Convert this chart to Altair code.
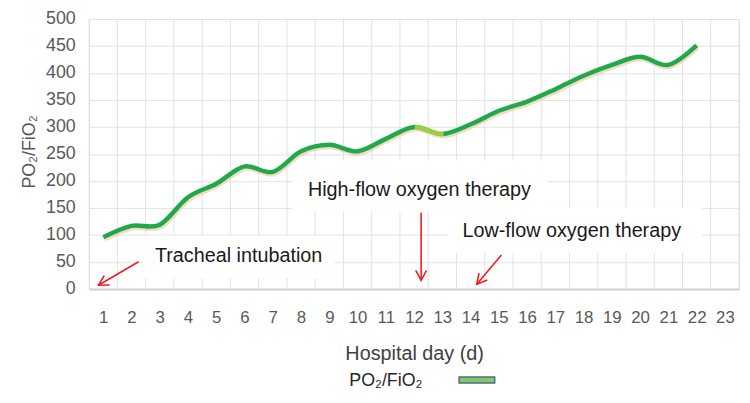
import altair as alt
import pandas as pd

FONT = "Liberation Sans"

# ---- data ----
days = list(range(1, 23))
pf_ratio = [96, 117, 119, 170, 195, 227, 217, 255, 267, 255, 278,
            300, 287, 305, 330, 347, 370, 395, 415, 430, 415, 451]
x_ticks = list(range(1, 24))
y_ticks = list(range(0, 501, 50))

# light-green stretch of the curve (day 12 -> 13), drawn with its neighbours
seg_days = [11, 12, 13, 14]

ann_text = ["Tracheal intubation", "High-flow oxygen therapy", "Low-flow oxygen therapy"]
ann_x = [5.79, 12.19, 17.58]
ann_y = [61, 184, 108]
box_x = [2.4, 7.7, 13.2]
box_x2 = [9.2, 16.7, 22.2]
box_y = [20, 144, 67]
box_y2 = [99, 238, 150]

arrow_x = [2.25, 12.25, 15.09]
arrow_y = [50.5, 141, 63]
arrow_x2 = [0.83, 12.25, 14.22]
arrow_y2 = [7, 16, 9]
arrow_angle = [150, 90, 130]

legend_label = "PO₂/FiO₂"

# ---- tables ----
line_df = pd.DataFrame({"day": days, "value": pf_ratio})
seg_df = line_df[line_df["day"].isin(seg_days)]
grid_df = pd.DataFrame({"b": [d - 0.5 for d in x_ticks] + [x_ticks[-1] + 0.5]})
ann_df = pd.DataFrame({"text": ann_text, "x": ann_x, "y": ann_y,
                       "bx": box_x, "bx2": box_x2, "by": box_y, "by2": box_y2})
arrow_df = pd.DataFrame({"x": arrow_x, "y": arrow_y, "x2": arrow_x2,
                         "y2": arrow_y2, "angle": arrow_angle})

W, H = 657, 273

xscale = alt.Scale(domain=[0.5, 23.5], nice=False, zero=False)
yscale = alt.Scale(domain=[0, 500], nice=False)

xaxis = alt.Axis(values=x_ticks, grid=False, ticks=False, domain=True,
                 domainColor="#d0d0d0", domainWidth=2, format="d",
                 labelFont=FONT, labelFontSize=17, labelColor="#595959",
                 labelPadding=21, labelFlush=False, labelOverlap=False,
                 title="Hospital day (d)", titleFont=FONT, titleFontSize=20,
                 titleFontWeight="normal", titleColor="#404040",
                 titleY=65, titleBaseline="middle")
yaxis = alt.Axis(values=y_ticks, grid=True, gridColor="#e2e2e2", ticks=False,
                 domain=False, labelFont=FONT, labelFontSize=18,
                 labelColor="#595959", labelPadding=14,
                 title="PO₂/FiO₂", titleFont=FONT, titleFontSize=18,
                 titleFontWeight="normal", titleColor="#595959",
                 titleX=-60, titleY=134, titleAngle=270,
                 titleAlign="center", titleBaseline="middle")


def X(f):
    return alt.X(f, type="quantitative", scale=xscale, axis=xaxis)


def Y(f):
    return alt.Y(f, type="quantitative", scale=yscale, axis=yaxis)


vgrid = alt.Chart(grid_df).mark_rule(color="#e2e2e2", strokeWidth=1).encode(x=X("b"))

boxes = alt.Chart(ann_df).mark_rect(color="white").encode(
    x=X("bx"), x2="bx2", y=Y("by"), y2="by2")

texts = alt.Chart(ann_df).mark_text(font=FONT, fontSize=20, color="#1a1a1a",
                                    align="center", baseline="middle").encode(
    x=X("x"), y=Y("y"), text="text:N")

arrows = alt.Chart(arrow_df).mark_rule(color="#ee1c24", strokeWidth=1.6).encode(
    x=X("x"), y=Y("y"), x2="x2", y2="y2")

heads = alt.Chart(arrow_df).mark_point(
    shape="M -1 -0.55 L 0 0 L -1 0.55", filled=False, color="#ee1c24",
    strokeWidth=1.6, size=400, opacity=1).encode(
    x=X("x2"), y=Y("y2"), angle=alt.Angle("angle:Q", scale=None))

shadow = alt.Chart(line_df).mark_line(
    interpolate="cardinal", color="#f2c29c", strokeWidth=5, opacity=0.6,
    xOffset=1, yOffset=2).encode(x=X("day"), y=Y("value"))

line = alt.Chart(line_df).mark_line(
    interpolate="cardinal", color="#1faa4a", strokeWidth=4.5).encode(
    x=X("day"), y=Y("value"))

light = alt.Chart(seg_df).mark_line(
    interpolate="cardinal", color="#9ccf3c", strokeWidth=4.5,
    strokeDash=[0, 32, 30, 2000]).encode(x=X("day"), y=Y("value"))

one = alt.Data(values=[{}])
leg_text = alt.Chart(one).mark_text(font=FONT, fontSize=18, color="#262626",
                                    align="center", baseline="middle").encode(
    x=alt.value(300), y=alt.value(366), text=alt.value(legend_label))
leg_sym = alt.Chart(one).mark_rect(fill="#86c66c", stroke="#4d6d7c",
                                   strokeWidth=1.5).encode(
    x=alt.value(374), x2=alt.value(410), y=alt.value(362), y2=alt.value(368))

chart = alt.layer(vgrid, boxes, texts, arrows, heads, shadow, line, light,
                  leg_text, leg_sym).properties(
    width=W, height=H,
    padding={"left": 82, "top": 9, "right": 3, "bottom": 100},
    autosize=alt.AutoSizeParams(type="none"),
).configure_view(stroke=None).configure(background="white")

chart.save("out.html", embed_options={"renderer": "svg", "actions": False})
